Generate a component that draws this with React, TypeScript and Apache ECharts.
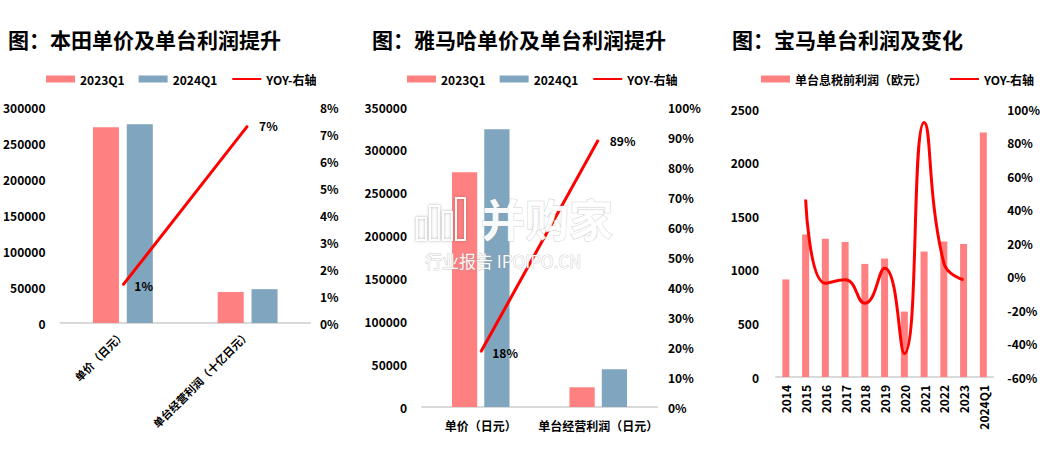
import React, { useEffect, useRef } from "react";
import * as echarts from "echarts";

const hondaCats = ["单价（日元）", "单台经营利润（十亿日元）"];
const honda2023 = [272000, 43000];
const honda2024 = [276000, 47000];
const hondaYoy = [1.4, 7.3];

const yamahaCats = ["单价（日元）", "单台经营利润（日元）"];
const yamaha2023 = [274000, 23000];
const yamaha2024 = [324000, 44000];
const yamahaYoy = [18.3, 89];

const bmwYears = ["2014", "2015", "2016", "2017", "2018", "2019", "2020", "2021", "2022", "2023", "2024Q1"];
const bmwProfit = [910, 1330, 1290, 1260, 1055, 1105, 610, 1170, 1265, 1240, 2280];
const bmwYoy = [null, 46, -4, -2, -16, 5, -46, 92, 8, -2, null];

const FONT = "'Noto Sans CJK SC', 'Noto Sans', sans-serif";
const RED = "#FF8080";
const BLUE = "#80A5BE";
const LINE = "#FF0000";

const labelStyle = { color: "#000", fontWeight: "bold" as const, fontSize: 12, fontFamily: FONT };

function valAxis(gridIndex: number, pos: "left" | "right", min: number, max: number, interval: number, margin: number, pct: boolean) {
  return {
    type: "value",
    gridIndex,
    position: pos,
    min,
    max,
    interval,
    splitLine: { show: false },
    axisLine: { show: false },
    axisTick: { show: false },
    axisLabel: {
      ...labelStyle,
      margin,
      formatter: (v: number) => (pct ? String(v) + "%" : String(v)),
    },
  };
}

function catAxis(gridIndex: number, data: string[], rotate: number, margin: number, fontSize: number) {
  return {
    type: "category",
    gridIndex,
    data,
    axisLine: { show: true, lineStyle: { color: "#D9D9D9", width: 2 } },
    axisTick: { show: false },
    axisLabel: { ...labelStyle, fontSize, rotate, margin, interval: 0 },
  };
}

const lineLabel = {
  show: true,
  position: "right" as const,
  distance: 11,
  color: "#000",
  fontWeight: "bold" as const,
  fontSize: 12,
  fontFamily: FONT,
  formatter: (p: any) => Math.round(p.value) + "%",
};

const legendText = { color: "#000", fontWeight: "bold" as const, fontSize: 12, fontFamily: FONT };
const yoyLegend = { name: "YOY-右轴", itemStyle: { opacity: 0 } };

export default function App() {
  const ref = useRef<HTMLDivElement>(null);
  useEffect(() => {
    if (!ref.current) return;
    const chart = echarts.init(ref.current, undefined, { renderer: "svg" });
    const titleStyle = { color: "#000", fontWeight: "bold" as const, fontSize: 21, fontFamily: FONT };
    const wmStyle = {
      fill: "rgba(255,255,255,0.95)",
      stroke: "rgba(150,150,150,0.45)",
      lineWidth: 1,
      shadowBlur: 3,
      shadowColor: "rgba(90,90,90,0.45)",
    };
    const wmRect = { fill: "none", stroke: "rgba(255,255,255,0.95)", lineWidth: 2, shadowBlur: 3, shadowColor: "rgba(90,90,90,0.5)" };
    chart.setOption({
      animation: false,
      backgroundColor: "#fff",
      title: [
        { text: "图：本田单价及单台利润提升", left: 8, top: 28, padding: 0, textStyle: titleStyle },
        { text: "图：雅马哈单价及单台利润提升", left: 372, top: 28, padding: 0, textStyle: titleStyle },
        { text: "图：宝马单台利润及变化", left: 732, top: 28, padding: 0, textStyle: titleStyle },
      ],
      legend: [
        {
          left: 46, top: 73, padding: 0, itemWidth: 29, itemHeight: 7, itemGap: 14,
          textStyle: legendText,
          data: [{ name: "2023Q1", icon: "rect" }, { name: "2024Q1", icon: "rect" }, yoyLegend],
        },
        {
          left: 407, top: 73, padding: 0, itemWidth: 29, itemHeight: 7, itemGap: 14,
          textStyle: legendText,
          data: [{ name: "2023Q1", icon: "rect" }, { name: "2024Q1", icon: "rect" }, yoyLegend],
        },
        {
          left: 761, top: 73, padding: 0, itemWidth: 29, itemHeight: 7, itemGap: 22,
          textStyle: legendText,
          data: [{ name: "单台息税前利润（欧元）", icon: "rect" }, yoyLegend],
        },
      ],
      grid: [
        { left: 60, top: 107, width: 250, height: 216 },
        { left: 422, top: 107, width: 235, height: 300 },
        { left: 776, top: 109, width: 237, height: 268 },
      ],
      xAxis: [
        catAxis(0, hondaCats, 45, 9, 11),
        catAxis(1, yamahaCats, 0, 12, 12),
        catAxis(2, bmwYears, 90, 8, 12),
      ],
      yAxis: [
        valAxis(0, "left", 0, 300000, 50000, 15, false),
        valAxis(0, "right", 0, 8, 1, 10, true),
        valAxis(1, "left", 0, 350000, 50000, 15, false),
        valAxis(1, "right", 0, 100, 10, 11, true),
        valAxis(2, "left", 0, 2500, 500, 17, false),
        valAxis(2, "right", -60, 100, 20, 14, true),
      ],
      series: [
        { type: "bar", name: "2023Q1", xAxisIndex: 0, yAxisIndex: 0, data: honda2023, itemStyle: { color: RED }, barGap: "30%", barCategoryGap: "52%" },
        { type: "bar", name: "2024Q1", xAxisIndex: 0, yAxisIndex: 0, data: honda2024, itemStyle: { color: BLUE } },
        { type: "line", name: "YOY-右轴", xAxisIndex: 0, yAxisIndex: 1, data: hondaYoy, symbol: "circle", symbolSize: 1, showSymbol: true, lineStyle: { color: LINE, width: 3 }, itemStyle: { color: LINE }, label: lineLabel, z: 5 },
        { type: "bar", name: "2023Q1", xAxisIndex: 1, yAxisIndex: 2, data: yamaha2023, itemStyle: { color: RED }, barGap: "28%", barCategoryGap: "51%" },
        { type: "bar", name: "2024Q1", xAxisIndex: 1, yAxisIndex: 2, data: yamaha2024, itemStyle: { color: BLUE } },
        { type: "line", name: "YOY-右轴", xAxisIndex: 1, yAxisIndex: 3, data: yamahaYoy, symbol: "circle", symbolSize: 1, showSymbol: true, lineStyle: { color: LINE, width: 3 }, itemStyle: { color: LINE }, label: lineLabel, z: 5 },
        { type: "bar", name: "单台息税前利润（欧元）", xAxisIndex: 2, yAxisIndex: 4, data: bmwProfit, itemStyle: { color: RED }, barWidth: 7 },
        { type: "line", name: "YOY-右轴", xAxisIndex: 2, yAxisIndex: 5, data: bmwYoy, symbol: "none", smooth: 0.5, connectNulls: false, lineStyle: { color: LINE, width: 3 }, itemStyle: { color: LINE } },
      ],
      graphic: [
        { type: "rect", z: 100, shape: { x: 417, y: 218, width: 9, height: 22 }, style: wmRect },
        { type: "rect", z: 100, shape: { x: 430, y: 206, width: 9, height: 34 }, style: wmRect },
        { type: "rect", z: 100, shape: { x: 443, y: 212, width: 9, height: 28 }, style: wmRect },
        { type: "rect", z: 100, shape: { x: 456, y: 198, width: 9, height: 42 }, style: wmRect },
        { type: "text", z: 100, x: 481, y: 196, style: { text: "并购家", font: `bold 44px ${FONT}`, ...wmStyle } },
        { type: "text", z: 100, x: 425, y: 252, style: { text: "行业报告 IPOIPO.CN", font: `17px ${FONT}`, ...wmStyle } },
      ],
    });
    return () => chart.dispose();
  }, []);
  return <div ref={ref} style={{ position: "absolute", left: 0, top: 0, width: 1043, height: 462 }} />;
}
